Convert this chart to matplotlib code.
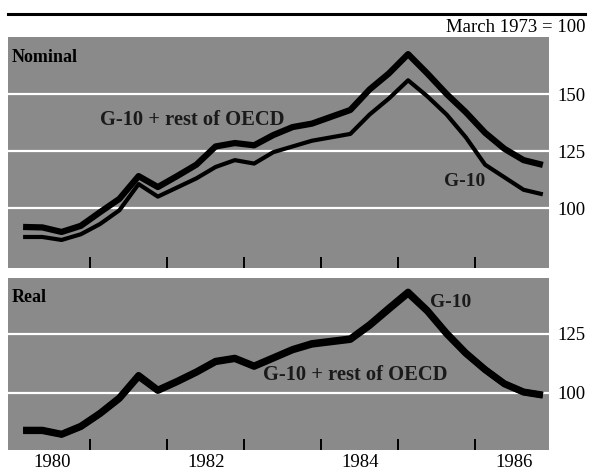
import numpy as np
import matplotlib
matplotlib.use('Agg')
import matplotlib.pyplot as plt
from matplotlib.ticker import FixedLocator, NullFormatter

plt.rcParams['font.family'] = ['Liberation Serif', 'DejaVu Serif']

# quarterly points, 1980Q1 .. 1986Q4 (plotted at mid-quarter)
quarters = [1980.125 + 0.25*i for i in range(28)]

nominal_oecd = [91.7, 91.5, 89.5, 92.2, 98.2, 104.0, 114.0, 109.2, 114.0, 119.0,
                127.0, 128.5, 127.5, 132.0, 135.5, 137.0, 140.0, 143.0, 152.0, 159.0,
                167.5, 159.0, 150.0, 142.0, 133.0, 126.0, 121.0, 118.9]
nominal_g10 = [87.3, 87.3, 86.0, 88.5, 93.0, 99.0, 110.5, 105.0, 109.0, 113.0,
               118.0, 121.0, 119.5, 124.5, 127.0, 129.5, 131.0, 132.5, 141.0, 148.0,
               156.0, 149.0, 141.0, 131.0, 119.0, 113.5, 108.0, 106.0]
real_g10 = [84.3, 84.3, 82.6, 86.0, 91.5, 98.0, 107.5, 101.3, 105.0, 109.0,
            113.5, 114.8, 111.5, 115.0, 118.5, 121.0, 122.0, 123.0, 129.0, 136.0,
            142.8, 135.0, 125.4, 117.0, 110.0, 104.0, 100.5, 99.2]
real_oecd = [84.0, 84.0, 82.4, 85.7, 91.2, 97.6, 107.0, 101.0, 104.7, 108.7,
             113.2, 114.5, 111.2, 114.7, 118.2, 120.6, 121.6, 122.6, 128.5, 135.4,
             142.2, 134.6, 125.0, 116.7, 109.8, 103.8, 100.3, 99.0]

year_labels = ['1980', '1982', '1984', '1986']
label_pos = [1980.5, 1982.5, 1984.5, 1986.5]
year_ticks = [1981, 1982, 1983, 1984, 1985, 1986]

panel_color = '#8a8a8a'
W, H = 589, 472

fig = plt.figure(figsize=(W/100, H/100), dpi=100)

def px_axes(x0, y0, x1, y1):
    return fig.add_axes([x0/W, 1 - y1/H, (x1-x0)/W, (y1-y0)/H])

def style_panel(ax, ylim, grid, show_xlabels):
    ax.set_facecolor(panel_color)
    ax.set_xlim(1979.929, 1986.955)
    ax.set_ylim(*ylim)
    for s in ax.spines.values():
        s.set_visible(False)
    for g in grid:
        ax.axhline(g, color='white', lw=1.6, zorder=1)
    ax.yaxis.tick_right()
    ax.set_yticks(grid)
    ax.set_yticklabels([str(g) for g in grid])
    ax.tick_params(axis='y', length=0, pad=6, labelsize=13.5)
    # year boundaries as minor ticks, labels in the middle of the year
    ax.xaxis.set_minor_locator(FixedLocator(year_ticks))
    ax.xaxis.set_minor_formatter(NullFormatter())
    ax.tick_params(axis='x', which='minor', direction='in', length=8, width=1.4,
                   color='black', bottom=True)
    ax.set_xticks(label_pos)
    if show_xlabels:
        ax.set_xticklabels(year_labels)
    else:
        ax.set_xticklabels([])
    ax.tick_params(axis='x', which='major', length=0, pad=3, labelsize=13.5)

# nominal panel
ax1 = px_axes(8, 37, 549, 268)
style_panel(ax1, (73.7, 175.0), [100, 125, 150], False)
ax1.plot(quarters, nominal_oecd, color='black', lw=4.5, solid_capstyle='butt', zorder=3)
ax1.plot(quarters, nominal_g10, color='black', lw=3.0, solid_capstyle='butt', zorder=3)
ax1.text(1979.98, 166.2, 'Nominal', fontsize=13, fontweight='bold', va='center', ha='left')
ax1.text(1981.12, 138.6, 'G-10 + rest of OECD', fontsize=14.8, fontweight='bold', color='#1a1a1a',
         va='center', ha='left')
ax1.text(1985.86, 111.5, 'G-10', fontsize=14, fontweight='bold', color='#1a1a1a',
         va='center', ha='center')

# real panel
ax2 = px_axes(8, 278, 549, 450)
style_panel(ax2, (75.85, 148.7), [100, 125], True)
ax2.plot(quarters, real_oecd, color='black', lw=4.8, solid_capstyle='butt', zorder=3)
ax2.plot(quarters, real_g10, color='black', lw=4.8, solid_capstyle='butt', zorder=3)
ax2.text(1979.98, 140.3, 'Real', fontsize=13, fontweight='bold', va='center', ha='left')
ax2.text(1983.24, 107.6, 'G-10 + rest of OECD', fontsize=14.8, fontweight='bold', color='#1a1a1a',
         va='center', ha='left')
ax2.text(1985.68, 138.3, 'G-10', fontsize=14, fontweight='bold', color='#1a1a1a',
         va='center', ha='center')

# rule and unit note at the top
fig.add_artist(plt.Line2D([8/W, 585/W], [1 - 14/H, 1 - 14/H], color='black', lw=2.2))
fig.text(585/W, 1 - 27/H, 'March 1973 = 100', fontsize=13.5, ha='right', va='center')

fig.savefig('out.png', dpi=100)
